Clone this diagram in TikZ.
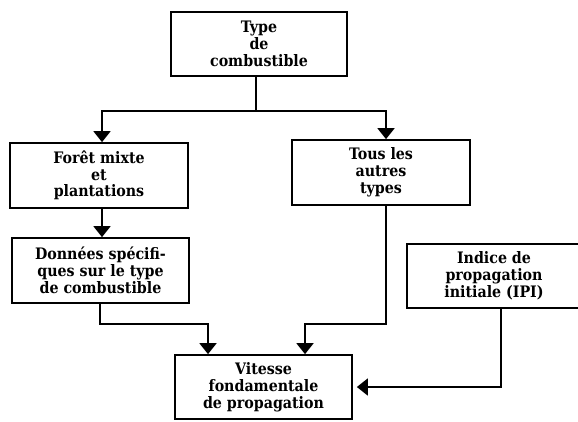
\documentclass[tikz,border=0pt]{standalone}
\usepackage{fontspec}
\setmainfont{DejaVu Serif Condensed}
\usetikzlibrary{arrows.meta}
\begin{document}
\begin{tikzpicture}[x=1pt,y=-1pt,
  box/.style={draw, line width=1.7pt, inner sep=0pt, align=center,
    font=\bfseries\fontsize{15.8}{16.8}\selectfont},
  link/.style={line width=1.8pt},
  arr/.style={link, -{Triangle[width=17pt,length=11pt]}}]
\useasboundingbox (0,0) rectangle (578,421);

% boxes
\node[box, minimum width=176pt, minimum height=64pt] (type) at (259,44)
  {Type\\de\\combustible};
\node[box, minimum width=178pt, minimum height=65pt] (foret) at (99,175.5)
  {Forêt mixte\\et\\plantations};
\node[box, minimum width=178pt, minimum height=65pt] (autres) at (381,172.5)
  {Tous les\\autres\\types};
\node[box, minimum width=177pt, minimum height=65pt] (donnees) at (100.5,270.5)
  {Données spécifi-\\ques sur le type\\de combustible};
\node[box, minimum width=174pt, minimum height=64pt] (ipi) at (494,276)
  {Indice de\\propagation\\initiale (IPI)};
\node[box, minimum width=177pt, minimum height=64pt] (vitesse) at (263.5,387)
  {Vitesse\\fondamentale\\de propagation};

% routing points
\coordinate (split) at (256,111);
\coordinate (colL) at (102,0);
\coordinate (colR) at (386,0);
\coordinate (joinL) at (208,324);
\coordinate (joinR) at (305,324);
\coordinate (colD) at (100,0);
\coordinate (colI) at (501,0);

% connectors
\draw[link] (type.south -| split) -- (split);
\draw[arr] (split) -| (foret.north -| colL);
\draw[arr] (split) -| (autres.north -| colR);
\draw[arr] (foret.south -| colL) -- (donnees.north -| colL);
\draw[arr] (donnees.south -| colD) |- (joinL) -- (vitesse.north -| joinL);
\draw[arr] (autres.south -| colR) |- (joinR) -- (vitesse.north -| joinR);
\draw[arr, shorten >=4pt] (ipi.south -| colI) |- (vitesse.east);
\end{tikzpicture}
\end{document}
